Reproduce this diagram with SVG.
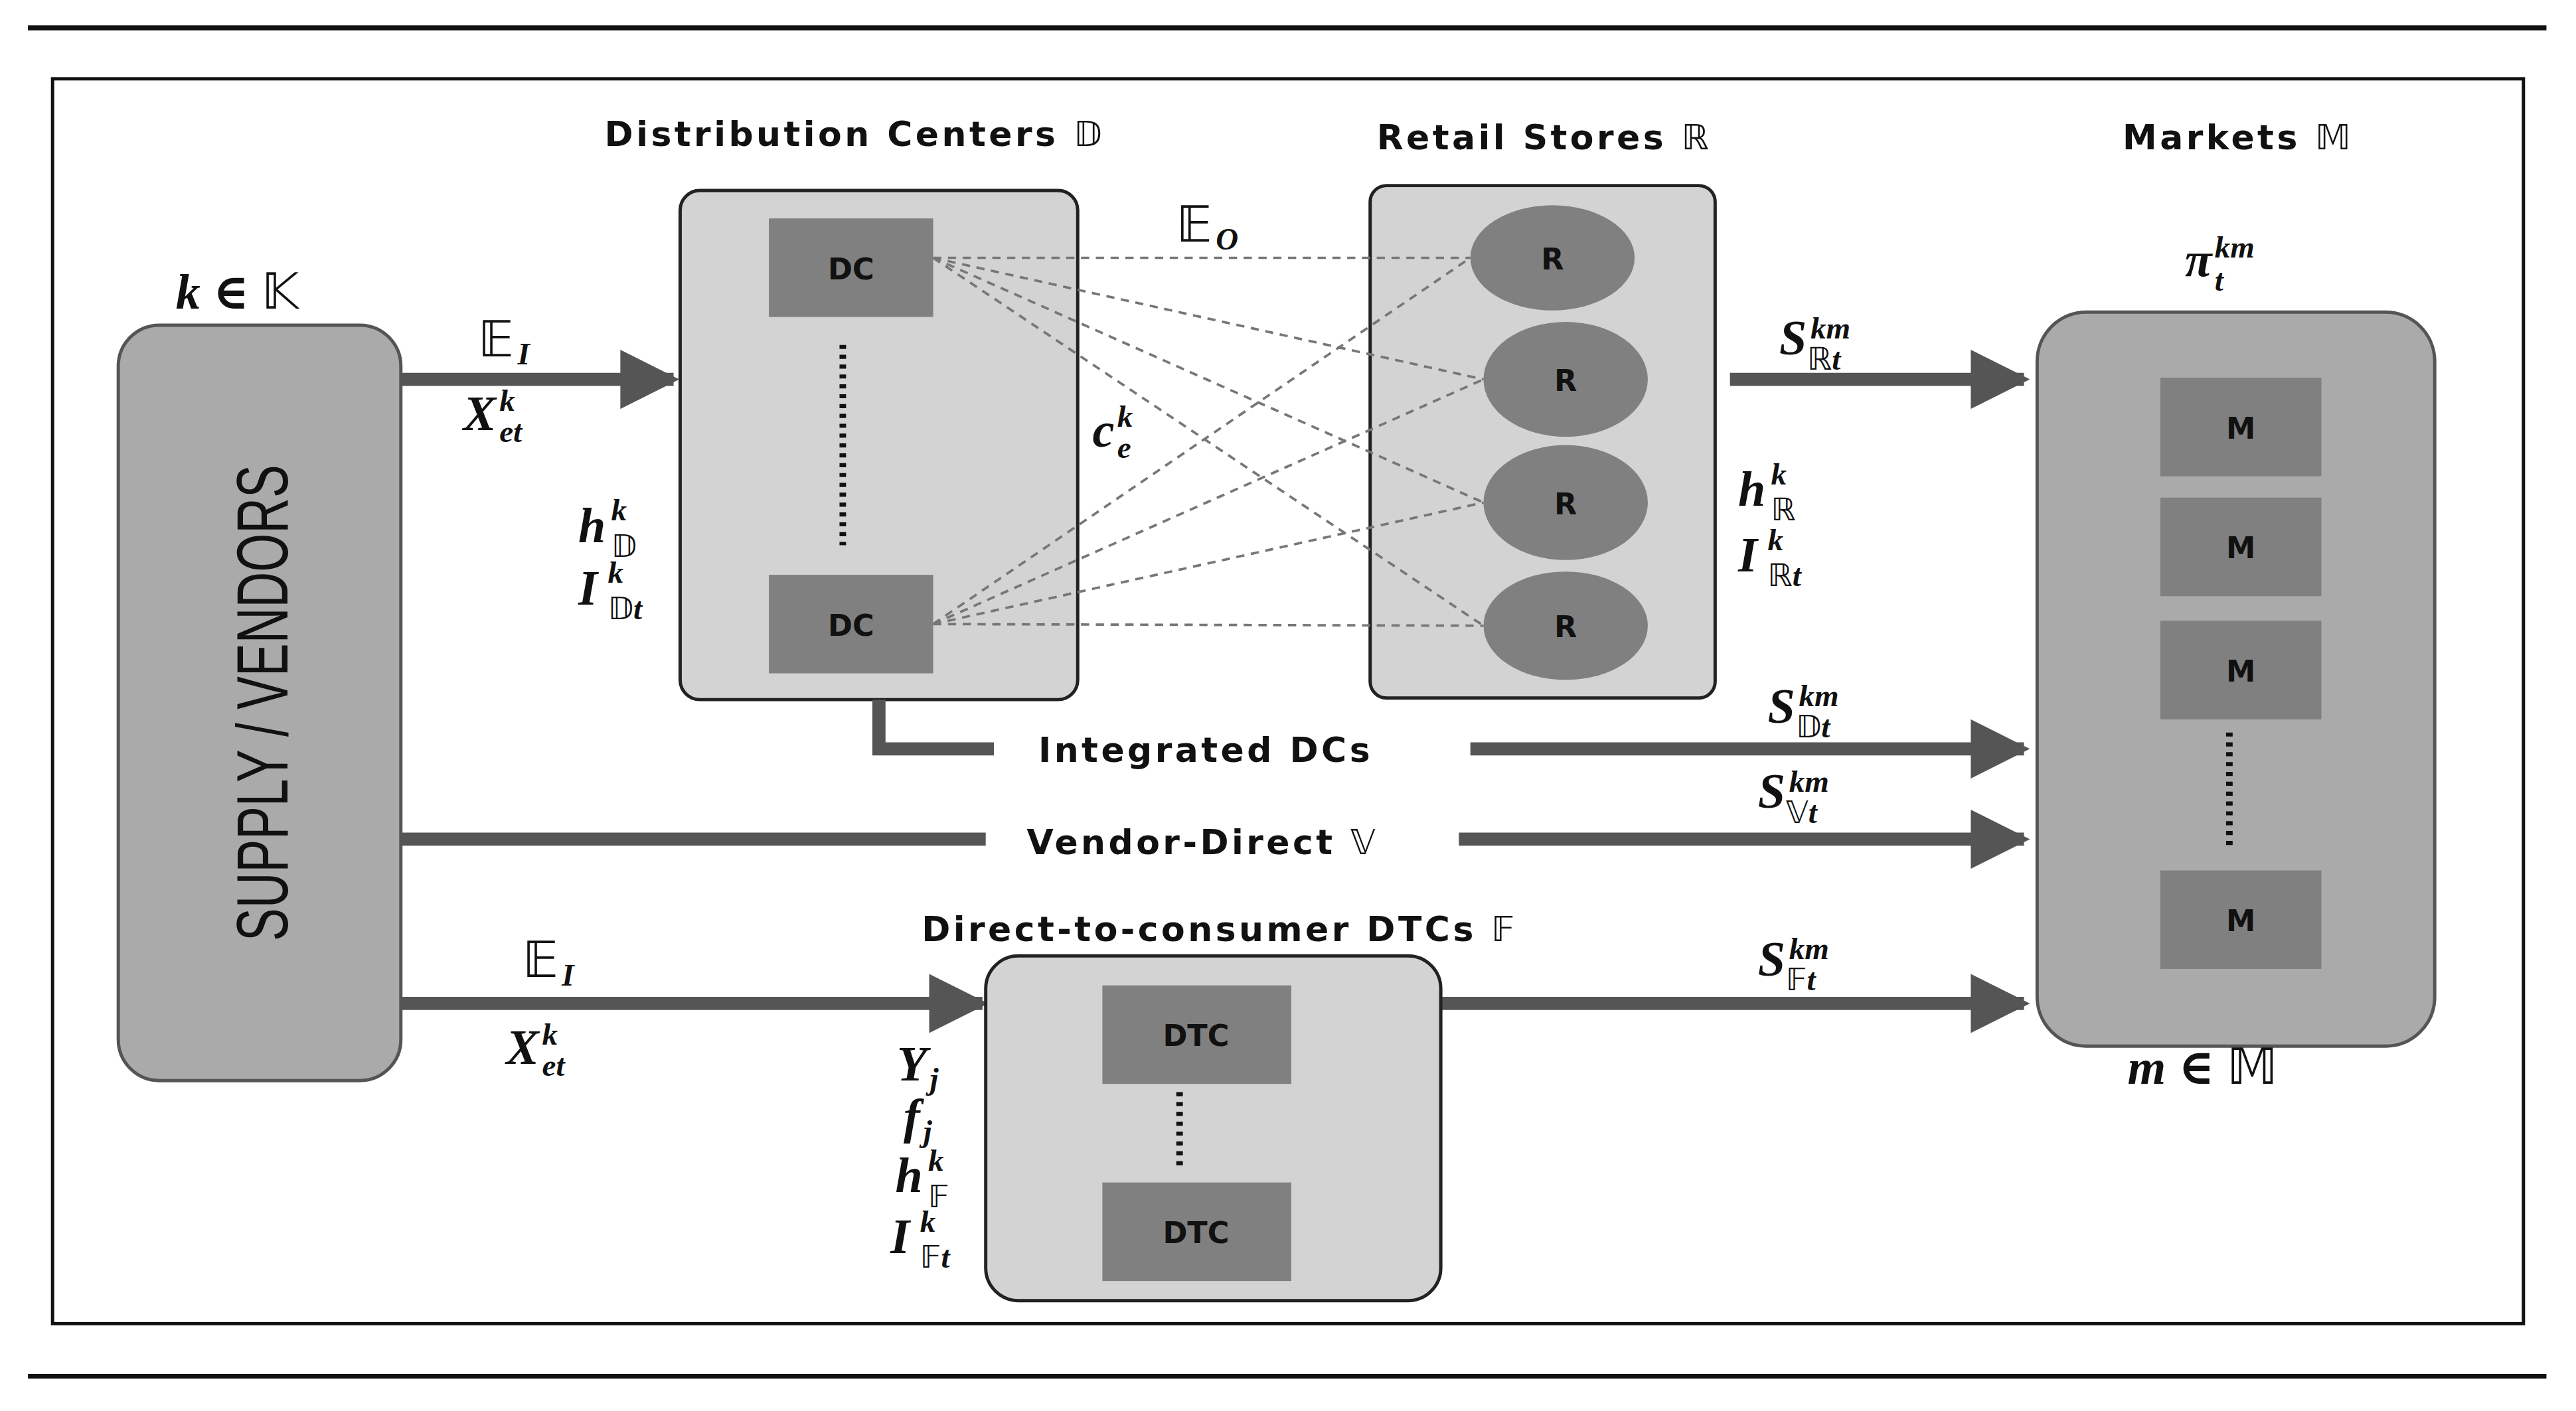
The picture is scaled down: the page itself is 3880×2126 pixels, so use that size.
<svg xmlns="http://www.w3.org/2000/svg" width="3880" height="2126" viewBox="0 0 3880 2126">
<defs>
<style>
.t{font-family:"DejaVu Sans",sans-serif;font-weight:bold;font-size:21px;letter-spacing:1.8px;fill:#111}
.m{font-family:"Liberation Serif","DejaVu Serif",serif;font-style:italic;font-weight:bold;font-size:30px;fill:#111}
.bb{font-family:"DejaVu Sans",sans-serif;font-style:normal;font-weight:normal}
.s{font-size:19px}
.box{fill:#808080}
.bl{font-family:"DejaVu Sans",sans-serif;font-weight:bold;font-size:18px;fill:#111}
.arr{stroke:#555;stroke-width:8;fill:none}
.dash{stroke:#777;stroke-width:1.5;stroke-dasharray:5 4;fill:none}
.dot{stroke:#111;stroke-width:4;stroke-dasharray:2.5 3.5}
</style>
<marker id="a" viewBox="0 0 10 10" refX="9" refY="5" markerWidth="6" markerHeight="4.5" orient="auto"><path d="M0,0 L10,5 L0,10 Z" fill="#555"/></marker>
</defs>
<rect width="3880" height="2126" fill="#fff"/>
<g transform="scale(2.4745)">
<line x1="17" y1="17" x2="1550" y2="17" stroke="#111" stroke-width="3"/>
<line x1="17" y1="838" x2="1550" y2="838" stroke="#111" stroke-width="3"/>
<rect x="32" y="48" width="1504" height="758" fill="none" stroke="#111" stroke-width="2"/>

<g id="supply">
<rect x="72" y="198" width="172" height="460" rx="25" fill="#aaa" stroke="#555" stroke-width="2"/>
<text transform="translate(175,428) rotate(-90)" text-anchor="middle" font-family="Liberation Sans Narrow,Liberation Sans,sans-serif" font-size="44" fill="#111" textLength="290" lengthAdjust="spacingAndGlyphs">SUPPLY / VENDORS</text>
<text class="m" x="107" y="188">k ∈ <tspan class="bb">𝕂</tspan></text>
</g>

<g id="dcs">
<rect x="414" y="116" width="242" height="310" rx="12" fill="#d3d3d3" stroke="#222" stroke-width="2"/>
<rect class="box" x="468" y="133" width="100" height="60"/><text class="bl" x="518" y="170" text-anchor="middle">DC</text>
<rect class="box" x="468" y="350" width="100" height="60"/><text class="bl" x="518" y="387" text-anchor="middle">DC</text>
<line class="dot" x1="513" y1="210" x2="513" y2="332"/>
<text class="t" x="368" y="89">Distribution Centers <tspan class="bb">𝔻</tspan></text>
<text class="m" x="352" y="330">h<tspan class="s" x="372" y="317">k</tspan><tspan class="s bb" x="372" y="339">𝔻</tspan></text>
<text class="m" x="352" y="368">I<tspan class="s" x="370" y="355">k</tspan><tspan class="s" x="370" y="377"><tspan class="bb">𝔻</tspan>t</tspan></text>
</g>

<g id="retail">
<rect x="834" y="113" width="210" height="312" rx="10" fill="#d3d3d3" stroke="#222" stroke-width="2"/>
<ellipse cx="945" cy="157" rx="50" ry="32" fill="#808080"/><text class="bl" x="945" y="164" text-anchor="middle">R</text>
<ellipse cx="953" cy="231" rx="50" ry="35" fill="#808080"/><text class="bl" x="953" y="238" text-anchor="middle">R</text>
<ellipse cx="953" cy="306" rx="50" ry="35" fill="#808080"/><text class="bl" x="953" y="313" text-anchor="middle">R</text>
<ellipse cx="953" cy="381" rx="50" ry="33" fill="#808080"/><text class="bl" x="953" y="388" text-anchor="middle">R</text>
<text class="t" x="838" y="91">Retail Stores <tspan class="bb">ℝ</tspan></text>
<text class="m" x="1058" y="308">h<tspan class="s" x="1078" y="295">k</tspan><tspan class="s bb" x="1078" y="317">ℝ</tspan></text>
<text class="m" x="1058" y="348">I<tspan class="s" x="1076" y="335">k</tspan><tspan class="s" x="1076" y="357"><tspan class="bb">ℝ</tspan>t</tspan></text>
</g>

<g id="connectors">
<path class="dash" d="M568,157 L895,157 M568,157 L903,231 M568,157 L903,306 M568,157 L903,381 M568,380 L895,157 M568,380 L903,231 M568,380 L903,306 M568,380 L903,381"/>
<line class="arr" x1="244" y1="231" x2="410" y2="231" marker-end="url(#a)"/>
<line class="arr" x1="1053" y1="231" x2="1232" y2="231" marker-end="url(#a)"/>
<path class="arr" d="M535,426 L535,456 L605,456"/>
<line class="arr" x1="895" y1="456" x2="1232" y2="456" marker-end="url(#a)"/>
<line class="arr" x1="244" y1="511" x2="600" y2="511"/>
<line class="arr" x1="888" y1="511" x2="1232" y2="511" marker-end="url(#a)"/>
<line class="arr" x1="244" y1="611" x2="598" y2="611" marker-end="url(#a)"/>
<line class="arr" x1="877" y1="611" x2="1232" y2="611" marker-end="url(#a)"/>
</g>

<g id="markets">
<rect x="1240" y="190" width="242" height="447" rx="30" fill="#aaa" stroke="#555" stroke-width="2"/>
<rect class="box" x="1315" y="230" width="98" height="60"/><text class="bl" x="1364" y="267" text-anchor="middle">M</text>
<rect class="box" x="1315" y="303" width="98" height="60"/><text class="bl" x="1364" y="340" text-anchor="middle">M</text>
<rect class="box" x="1315" y="378" width="98" height="60"/><text class="bl" x="1364" y="415" text-anchor="middle">M</text>
<rect class="box" x="1315" y="530" width="98" height="60"/><text class="bl" x="1364" y="567" text-anchor="middle">M</text>
<line class="dot" x1="1357" y1="446" x2="1357" y2="516"/>
<text class="t" x="1292" y="91">Markets <tspan class="bb">𝕄</tspan></text>
<text class="m" x="1330" y="168">π<tspan class="s" x="1348" y="157">km</tspan><tspan class="s" x="1348" y="177">t</tspan></text>
<text class="m" x="1295" y="660">m ∈ <tspan class="bb">𝕄</tspan></text>
</g>

<g id="dtc">
<rect x="600" y="582" width="277" height="210" rx="20" fill="#d3d3d3" stroke="#222" stroke-width="2"/>
<rect class="box" x="671" y="600" width="115" height="60"/><text class="bl" x="728" y="637" text-anchor="middle">DTC</text>
<rect class="box" x="671" y="720" width="115" height="60"/><text class="bl" x="728" y="757" text-anchor="middle">DTC</text>
<line class="dot" x1="718" y1="665" x2="718" y2="713"/>
<text class="t" x="561" y="573">Direct-to-consumer DTCs <tspan class="bb">𝔽</tspan></text>
<text class="m" x="546" y="658">Y<tspan class="s" x="566" y="663">j</tspan></text>
<text class="m" x="550" y="690">f<tspan class="s" x="562" y="695">j</tspan></text>
<text class="m" x="545" y="726">h<tspan class="s" x="565" y="713">k</tspan><tspan class="s bb" x="565" y="735">𝔽</tspan></text>
<text class="m" x="542" y="763">I<tspan class="s" x="560" y="750">k</tspan><tspan class="s" x="560" y="772"><tspan class="bb">𝔽</tspan>t</tspan></text>
</g>

<g id="labels">
<text class="m" x="716" y="147"><tspan class="bb">𝔼</tspan><tspan class="s" x="740" y="152">O</tspan></text>
<text class="m" x="291" y="217"><tspan class="bb">𝔼</tspan><tspan class="s" x="315" y="222">I</tspan></text>
<text class="m" x="282" y="262">X<tspan class="s" x="304" y="250">k</tspan><tspan class="s" x="304" y="269">et</tspan></text>
<text class="m" x="665" y="272">c<tspan class="s" x="680" y="260">k</tspan><tspan class="s" x="680" y="279">e</tspan></text>
<text class="m" x="1083" y="216">S<tspan class="s" x="1102" y="206">km</tspan><tspan class="s" x="1100" y="225"><tspan class="bb">ℝ</tspan>t</tspan></text>
<text class="t" x="632" y="464">Integrated DCs</text>
<text class="m" x="1076" y="440">S<tspan class="s" x="1095" y="430">km</tspan><tspan class="s" x="1093" y="449"><tspan class="bb">𝔻</tspan>t</tspan></text>
<text class="t" x="625" y="520">Vendor-Direct <tspan class="bb">𝕍</tspan></text>
<text class="m" x="1070" y="492">S<tspan class="s" x="1089" y="482">km</tspan><tspan class="s" x="1087" y="501"><tspan class="bb">𝕍</tspan>t</tspan></text>
<text class="m" x="318" y="595"><tspan class="bb">𝔼</tspan><tspan class="s" x="342" y="600">I</tspan></text>
<text class="m" x="308" y="648">X<tspan class="s" x="330" y="636">k</tspan><tspan class="s" x="330" y="655">et</tspan></text>
<text class="m" x="1070" y="594">S<tspan class="s" x="1089" y="584">km</tspan><tspan class="s" x="1087" y="603"><tspan class="bb">𝔽</tspan>t</tspan></text>
</g>
</g>
</svg>
